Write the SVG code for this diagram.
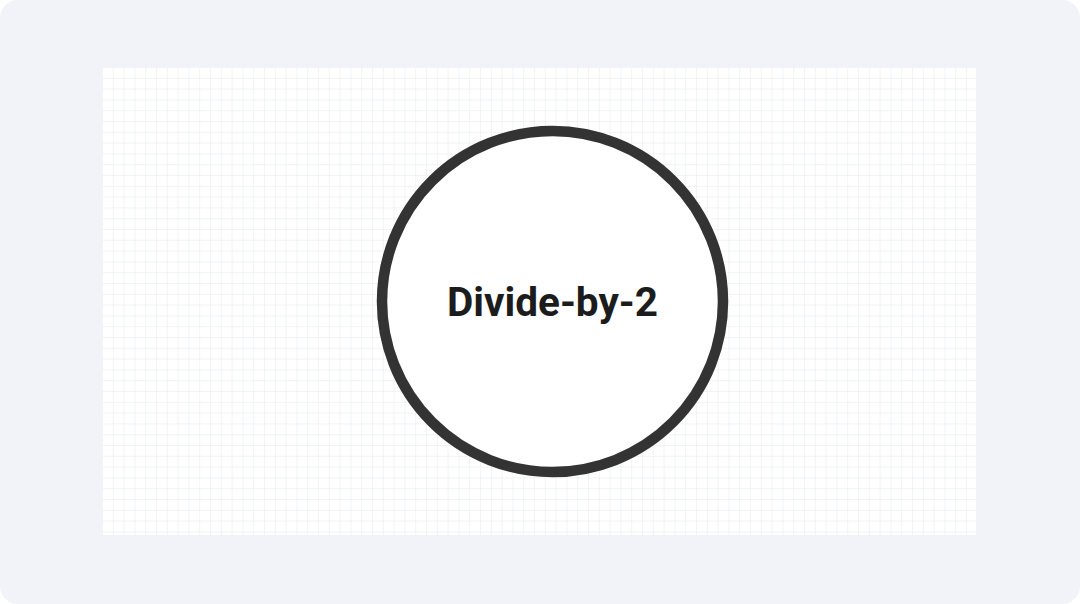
<svg xmlns="http://www.w3.org/2000/svg" width="1080" height="604" viewBox="0 0 1080 604">
  <defs>
    <pattern id="grid" x="103" y="68" width="10.8" height="10.8" patternUnits="userSpaceOnUse">
      <path d="M10.8 0 V10.8 M0 10.8 H10.8" fill="none" stroke="#e4e7ea" stroke-width="1"/>
    </pattern>
    <style>
      .node-shape { fill: #ffffff; stroke: #333333; stroke-width: 10.5; }
      .node-label { font-family: Roboto, "Liberation Sans", sans-serif; font-weight: 700; font-size: 40.5px; fill: #1c1c1c; }
    </style>
  </defs>
  <rect x="0" y="0" width="1080" height="604" fill="#ffffff"/>
  <rect x="0" y="0" width="1080" height="604" rx="18" ry="18" fill="#f2f3f8"/>
  <rect x="103" y="68" width="873" height="467" fill="#ffffff"/>
  <rect x="103" y="68" width="873" height="467" fill="url(#grid)"/>
  <g id="connectors"></g>
  <g id="node-divide-by-2">
    <circle class="node-shape" cx="552.5" cy="301.5" r="170.5"/>
    <text class="node-label" x="552.5" y="316" text-anchor="middle">Divide-by-2</text>
  </g>
</svg>
